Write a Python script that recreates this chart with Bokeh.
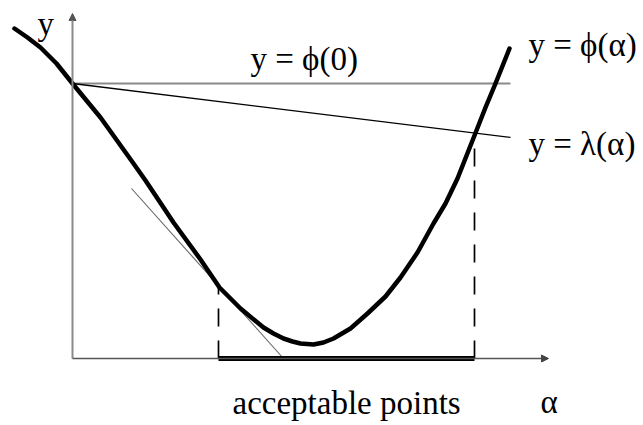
from bokeh.plotting import figure
from bokeh.models import Arrow, NormalHead, Range1d
from bokeh.core.properties import value
from bokeh.embed import file_html
from bokeh.resources import INLINE

# ---- data (diagram units: alpha along the x-axis, y up) ----
alpha_pts = [-0.58, -0.45, -0.32, -0.16, 0.00, 0.28, 0.61, 0.73, 1.01, 1.28, 1.47,
             1.68, 1.91, 2.01, 2.11, 2.20, 2.28, 2.41, 2.51, 2.61, 2.78, 2.95, 3.13,
             3.28, 3.45, 3.61, 3.73, 3.85, 4.02, 4.13, 4.23, 4.37]
phi_pts = [3.30, 3.21, 3.11, 2.95, 2.75, 2.41, 1.95, 1.78, 1.36, 0.99, 0.71,
           0.50, 0.31, 0.25, 0.20, 0.17, 0.15, 0.14, 0.16, 0.20, 0.30, 0.45, 0.62,
           0.81, 1.06, 1.35, 1.55, 1.80, 2.23, 2.51, 2.75, 3.10]
phi0 = 2.75
line_end_alpha = 4.38          # where the phi(0) and lambda lines stop
lambda_slope = -0.123          # slope of lambda(alpha)
tangent_alpha = [0.59, 2.11]
tangent_y = [1.70, 0.00]
accept_lo, accept_hi = 1.46, 4.02
accept_lo_phi = 0.71
axis_x_end = 4.76
axis_y_end = 3.45

labels = ["y", "y = \u03d5(0)", "y = \u03d5(\u03b1)", "y = \u03bb(\u03b1)",
          "acceptable points", "\u03b1"]

def lam(a):
    return phi0 + lambda_slope * a

FONT = value("Liberation Serif")

p = figure(width=643, height=425, output_backend="svg", toolbar_location=None,
           x_range=Range1d(-0.72, 5.71), y_range=Range1d(-0.67, 3.58),
           min_border=0)
p.axis.visible = False
p.grid.visible = False
p.outline_line_color = None
p.background_fill_color = "white"
p.border_fill_color = "white"

# axes with arrowheads
p.add_layout(Arrow(end=NormalHead(size=7, fill_color="#555", line_color="#555"),
                   x_start=0, y_start=0, x_end=0, y_end=axis_y_end,
                   line_color="#8a8a8a", line_width=2))
p.add_layout(Arrow(end=NormalHead(size=7, fill_color="#444", line_color="#444"),
                   x_start=0, y_start=0, x_end=axis_x_end, y_end=0,
                   line_color="#555", line_width=1.5))

# y = phi(0)
p.line([0, line_end_alpha], [phi0, phi0], line_color="#8a8a8a", line_width=2)
# y = lambda(alpha)
p.line([0, line_end_alpha], [lam(0), lam(line_end_alpha)], line_color="black",
       line_width=1.3)
# tangent
p.line(tangent_alpha, tangent_y, line_color="#666", line_width=1.1)

# dashed verticals
p.line([accept_lo, accept_lo], [0, accept_lo_phi], line_color="black",
       line_width=1.7, line_dash="18 14")
p.line([accept_hi, accept_hi], [0, lam(accept_hi)], line_color="black",
       line_width=1.7, line_dash="18 14")

# acceptable interval bar
p.line([accept_lo, accept_hi], [0, 0], line_color="black", line_width=5)

# phi(alpha) curve
p.line(alpha_pts, phi_pts, line_color="black", line_width=4.5, line_join="round",
       line_cap="round")

# labels
lab_x = [-0.35, 1.78, 4.56, 4.56, 1.60, 4.68]
lab_y = [3.35, 3.00, 3.14, 2.15, -0.44, -0.43]
p.text(x=lab_x, y=lab_y, text=labels, text_font=FONT, text_font_size="33px",
       text_color="black", text_align="left", text_baseline="alphabetic")

open("out.html", "w").write(file_html(p, INLINE))
